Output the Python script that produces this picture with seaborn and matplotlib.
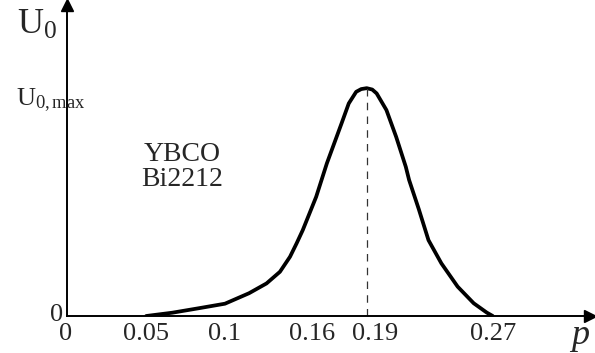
import matplotlib
matplotlib.use('Agg')
import matplotlib.pyplot as plt
import matplotlib.transforms as mtransforms
import seaborn as sns
import pandas as pd

# hole doping p and U0 (in units of U0,max)
p_vals = [0.05, 0.0666, 0.0833, 0.10, 0.1153, 0.1264, 0.1349, 0.1413, 0.1455, 0.1494,
          0.1579, 0.1647, 0.1740, 0.1786, 0.1833, 0.1865, 0.19, 0.1935, 0.1963, 0.2025,
          0.2087, 0.2148, 0.2169, 0.2230, 0.2292, 0.2374, 0.2477, 0.2579, 0.2662, 0.27]
u0_vals = [0.0, 0.0145, 0.034, 0.054, 0.10, 0.143, 0.194, 0.26, 0.319, 0.377,
           0.523, 0.67, 0.845, 0.933, 0.984, 0.996, 1.0, 0.994, 0.977, 0.904,
           0.786, 0.655, 0.597, 0.47, 0.333, 0.231, 0.129, 0.056, 0.015, 0.0]

x_ticks = [0, 0.05, 0.1, 0.16, 0.19, 0.27]
x_tick_labels = ['0', '0.05', '0.1', '0.16', '0.19', '0.27']
peak_p = 0.19
u0_max = 1.0
materials = ['YBCO', 'Bi2212']

sns.set_style("white")
plt.rcParams['font.family'] = ['Liberation Serif', 'DejaVu Serif']
plt.rcParams['mathtext.fontset'] = 'custom'
plt.rcParams['mathtext.rm'] = 'Liberation Serif'
plt.rcParams['mathtext.it'] = 'Liberation Serif:italic'

df = pd.DataFrame({'p': p_vals, 'u0': u0_vals})

fig = plt.figure(figsize=(5.95, 3.53), dpi=100)
ax = fig.add_axes([0.1133, 0.1048, 0.879, 0.881])

sns.lineplot(data=df, x='p', y='u0', ax=ax, color='black', linewidth=2.7,
             solid_joinstyle='round', solid_capstyle='round')
ax.plot([peak_p, peak_p], [0, u0_max], color='#333333', linewidth=0.9, dashes=(6, 5))

ax.set_xlim(0, 0.332)
ax.set_ylim(0, 1.365)

for side in ['top', 'right']:
    ax.spines[side].set_visible(False)
for side in ['left', 'bottom']:
    ax.spines[side].set_linewidth(1.4)
    ax.spines[side].set_color('black')

# arrow heads on the axes
ax.plot(1, 0, '>', color='black', markersize=9, transform=ax.transAxes, clip_on=False)
ax.plot(0, 1, '^', color='black', markersize=9, transform=ax.transAxes, clip_on=False)

ax.set_xticks(x_ticks)
ax.set_xticklabels(x_tick_labels)
ax.set_yticks([0, u0_max])
ax.set_yticklabels(['0', ''])
ax.tick_params(axis='both', direction='in', length=6, width=1.2, labelsize=19, color='black')
ax.tick_params(axis='x', pad=5)
ax.tick_params(axis='y', pad=3)

# spread the crowded labels apart a little, as in the original
shifts = {'0': -2, '0.16': -7, '0.19': 8}
for lbl in ax.get_xticklabels():
    dx = shifts.get(lbl.get_text(), 0)
    if dx:
        lbl.set_transform(lbl.get_transform() + mtransforms.ScaledTranslation(dx / 100, 0, fig.dpi_scale_trans))
for lbl in ax.get_yticklabels():
    if lbl.get_text() == '0':
        lbl.set_transform(lbl.get_transform() + mtransforms.ScaledTranslation(0, 4 / 100, fig.dpi_scale_trans))

ax.set_xlabel('')
ax.set_ylabel('')

ax.annotate(r'$\mathrm{U_{0,max}}$', xy=(0, u0_max), xytext=(-12, -9), textcoords='offset points',
            ha='center', va='center', fontsize=19)
ax.annotate(r'$\mathrm{U_0}$', xy=(0, 1), xycoords='axes fraction', xytext=(-22, -15),
            textcoords='offset points', ha='center', va='center', fontsize=26)
ax.annotate(r'$p$', xy=(1, 0), xycoords='axes fraction', xytext=(-8, -20),
            textcoords='offset points', ha='center', va='baseline', fontsize=26)

ax.text(0.0731, 0.655, '\n'.join(materials), ha='center', va='center', fontsize=20,
        linespacing=1.0)

fig.savefig('out.png', dpi=100)
